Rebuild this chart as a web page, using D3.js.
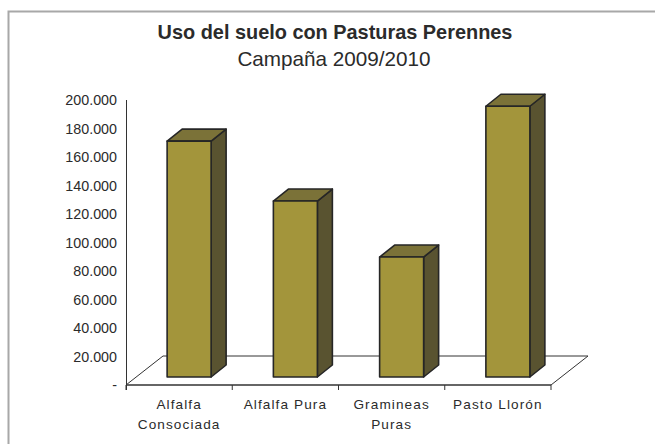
<!DOCTYPE html>
<html>
<head>
<meta charset="utf-8">
<script src="https://cdn.jsdelivr.net/npm/d3@7"></script>
<style>
	html, body { margin: 0; padding: 0; background: #fff; }
	text { font-family: "Liberation Sans", Arial, sans-serif; fill: #2b2b2b; }
</style>
</head>
<body>
<div id="chart"></div>
<script>
(function(){

	var categories = ["Alfalfa Consociada", "Alfalfa Pura", "Gramineas Puras", "Pasto Llorón"];
	var values = [165500, 123500, 84200, 190000];
	var yTicks = [0, 20000, 40000, 60000, 80000, 100000, 120000, 140000, 160000, 180000, 200000];
	var yLabels = ["-", "20.000", "40.000", "60.000", "80.000", "100.000", "120.000", "140.000", "160.000", "180.000", "200.000"];

	var width = 655;
	var height = 444;

	var svg = d3.select("div#chart")
	.append("svg")
	.attr("width", width)
	.attr("height", height)
	.style("display", "block");

	// frame runs off the right and bottom of the picture
	svg.append("path")
	.attr("d", "M8.5," + height + "V11.5H" + width)
	.attr("fill", "none")
	.attr("stroke", "#a8a8a8")
	.attr("stroke-width", 2);

	svg.append("text")
	.attr("x", 335).attr("y", 39)
	.attr("text-anchor", "middle")
	.style("font-size", "19.9px")
	.style("font-weight", "bold")
	.text("Uso del suelo con Pasturas Perennes");

	svg.append("text")
	.attr("x", 334).attr("y", 66)
	.attr("text-anchor", "middle")
	.style("font-size", "20.7px")
	.text("Campaña 2009/2010");

	var x = d3.scaleBand().domain(categories).range([126, 551]);
	var y = d3.scaleLinear().domain([0, 200000]).range([385, 100]);

	// 3d offsets
	var floorDx = 37, floorDy = -29;
	var barShiftX = 10, barShiftY = -8;
	var barDx = 15, barDy = -12;
	var barW = 44;

	// floor
	var x0 = x.range()[0], x1 = x.range()[1], y0 = y(0);
	svg.append("path")
	.attr("d", "M" + x0 + "," + y0 + "L" + (x0 + floorDx) + "," + (y0 + floorDy) + "H" + (x1 + floorDx) + "L" + x1 + "," + y0)
	.attr("fill", "none")
	.attr("stroke", "#333")
	.attr("stroke-width", 1);

	// bars
	var bars = svg.selectAll(".bar")
	.data(categories)
	.enter().append("g")
	.attr("class", "bar")
	.attr("stroke", "#262626")
	.attr("stroke-width", 1.6)
	.attr("stroke-linejoin", "round");

	function left(d){ return x(d) + (x.bandwidth() - barW) / 2 + barShiftX; }
	function topY(d, i){ return y(values[i]) + barShiftY; }
	var bottom = y0 + barShiftY;

	bars.append("path")
	.attr("fill", "#595330")
	.attr("d", function(d, i){
		var r = left(d) + barW;
		return "M" + r + "," + topY(d, i) + "l" + barDx + "," + barDy + "V" + (bottom + barDy) + "l" + (-barDx) + "," + (-barDy) + "Z";
	});

	bars.append("path")
	.attr("fill", "#7b7238")
	.attr("d", function(d, i){
		return "M" + left(d) + "," + topY(d, i) + "l" + barDx + "," + barDy + "h" + barW + "l" + (-barDx) + "," + (-barDy) + "Z";
	});

	bars.append("rect")
	.attr("fill", "#a3953b")
	.attr("x", left)
	.attr("y", topY)
	.attr("width", barW)
	.attr("height", function(d, i){ return bottom - topY(d, i); });

	// axes
	var yAxis = d3.axisLeft(y)
	.tickValues(yTicks)
	.tickSize(0)
	.tickPadding(9)
	.tickFormat(function(d, i){ return yLabels[i]; });

	var yG = svg.append("g")
	.attr("transform", "translate(126,0)")
	.call(yAxis);
	yG.select(".domain").attr("stroke", "#333").attr("d", "M0.5,100V390");
	yG.selectAll("text")
	.style("font-size", "14.3px")
	.style("font-family", "'Liberation Sans'")
	.attr("fill", "#2b2b2b");

	var xAxis = d3.axisBottom(x).tickSize(0).tickPadding(14);

	var xG = svg.append("g")
	.attr("transform", "translate(0," + y0 + ")")
	.call(xAxis);
	xG.select(".domain").attr("stroke", "#333").attr("stroke-width", 1.4).attr("d", "M" + x0 + ",0H" + x1);
	xG.selectAll("text")
	.style("font-size", "13.6px")
	.style("letter-spacing", "1.1px")
	.style("font-family", "'Liberation Sans'")
	.attr("fill", "#2b2b2b")
	.call(wrap, 100);

	// ticks sit between the categories
	xG.selectAll(".sep")
	.data(categories.concat([null]))
	.enter().append("line")
	.attr("class", "sep")
	.attr("stroke", "#333")
	.attr("x1", function(d, i){ return x0 + i * x.step(); })
	.attr("x2", function(d, i){ return x0 + i * x.step(); })
	.attr("y1", 0)
	.attr("y2", 5);

	function wrap(sel, w){
		sel.each(function(){
			var t = d3.select(this);
			var full = t.text();
			if (this.getComputedTextLength() <= w) return;
			var parts = full.split(" ");
			var yy = t.attr("y");
			t.text(null);
			parts.forEach(function(p, i){
				t.append("tspan").attr("x", 0).attr("y", yy).attr("dy", (0.71 + i * 1.5) + "em").text(p);
			});
			t.attr("dy", null);
		});
	}

})();
</script>
</body>
</html>
